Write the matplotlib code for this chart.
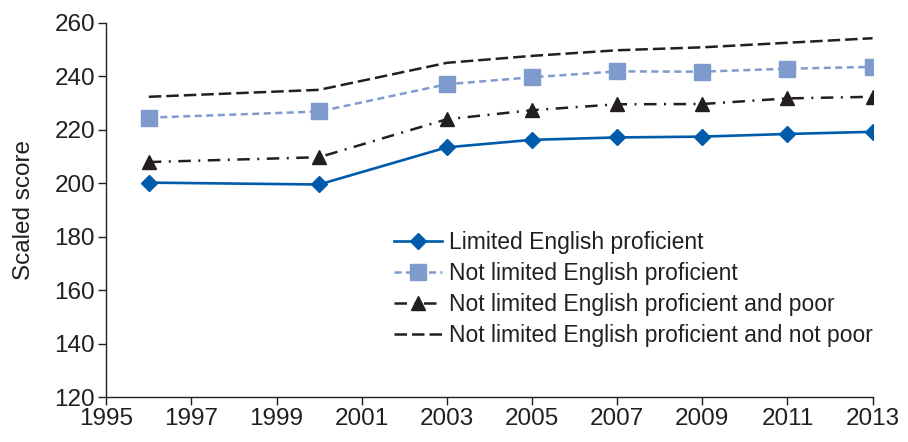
import matplotlib.pyplot as plt

# Daten
years = [1996, 2000, 2003, 2005, 2007, 2009, 2011, 2013]
lep = [200.3, 199.6, 213.5, 216.3, 217.2, 217.5, 218.5, 219.3]
not_lep = [224.6, 226.9, 237.1, 239.7, 241.9, 241.8, 242.9, 243.6]
not_lep_poor = [208.0, 209.8, 224.0, 227.4, 229.6, 229.7, 231.8, 232.4]
not_lep_not_poor = [232.4, 235.0, 245.1, 247.7, 249.8, 250.9, 252.6, 254.3]
labels = ['Limited English proficient',
          'Not limited English proficient',
          'Not limited English proficient and poor',
          'Not limited English proficient and not poor']

plt.rcParams['font.family'] = ['Liberation Sans', 'DejaVu Sans']
txt = '#231f20'
blue = '#005baa'
light = '#7f9acd'

fig = plt.figure(figsize=(9.08, 4.42), dpi=100)
ax = fig.add_axes([0.117, 0.101, 0.844, 0.847])

ax.plot(years, lep, color=blue, lw=1.9, marker='D', ms=8, label=labels[0])
ax.plot(years, not_lep, color=light, lw=1.8, marker='s', ms=12,
        dashes=(2.8, 1.8), label=labels[1])
ax.plot(years, not_lep_poor, color=txt, lw=1.8, marker='^', ms=10,
        dashes=(5, 3, 0.8, 3), label=labels[2])
ax.plot(years, not_lep_not_poor, color=txt, lw=1.8,
        dashes=(5, 2), label=labels[3])

ax.set_xlim(1995, 2013)
ax.set_ylim(120, 260)
ax.set_xticks(range(1995, 2014, 2))
ax.set_yticks(range(120, 261, 20))
ax.set_ylabel('Scaled score', fontsize=17.5, color=txt, labelpad=14)

for s in ['top', 'right']:
    ax.spines[s].set_visible(False)
for s in ['left', 'bottom']:
    ax.spines[s].set_color(txt)
    ax.spines[s].set_linewidth(1.0)
ax.tick_params(direction='out', length=6, width=1.0, color=txt,
               labelsize=17.5, labelcolor=txt, pad=2)

leg = ax.legend(loc='upper left', bbox_to_anchor=(0.375, 0.444), frameon=False,
                fontsize=16.5, handlelength=2.1, handletextpad=0.3,
                labelspacing=0.35, borderaxespad=0, borderpad=0)
for t in leg.get_texts():
    t.set_color(txt)

plt.savefig('out.png', dpi=100)
